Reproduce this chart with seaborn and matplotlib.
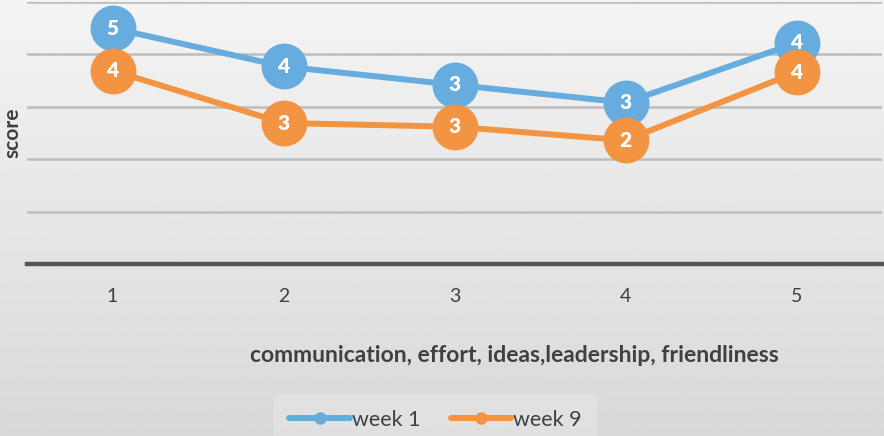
import matplotlib
matplotlib.use("Agg")
import matplotlib.pyplot as plt
import numpy as np
import pandas as pd
import seaborn as sns

# data
categories = [1, 2, 3, 4, 5]
week1 = [4.5, 3.77, 3.42, 3.08, 4.22]
week9 = [3.69, 2.69, 2.62, 2.36, 3.66]
series_names = ["week 1", "week 9"]
colors = ["#66ACDE", "#F29441"]
x_title = "communication, effort, ideas,leadership, friendliness"
y_title = "score"

df = pd.DataFrame({
    "category": categories * 2,
    "score": week1 + week9,
    "series": [series_names[0]] * len(categories) + [series_names[1]] * len(categories),
})

sns.set_style("white")
plt.rcParams["font.family"] = ["Lato", "DejaVu Sans"]

fig = plt.figure(figsize=(8.84, 4.36), dpi=100)

# gradient background
bg = fig.add_axes([0, 0, 1, 1], zorder=-1)
grad = np.linspace(0.955, 0.85, 256).reshape(-1, 1)
bg.imshow(grad, aspect="auto", cmap="gray", vmin=0, vmax=1, extent=[0, 1, 0, 1])
bg.axis("off")

ax = fig.add_axes([27 / 884, 1 - 264 / 436, 855 / 884, 262 / 436])
ax.set_facecolor("none")

sns.lineplot(data=df, x="category", y="score", hue="series", palette=colors,
             marker="o", markersize=33, linewidth=4.3, markeredgewidth=0,
             ax=ax, legend=False, zorder=3)

for vals, col in zip([week1, week9], colors):
    for x, v in zip(categories, vals):
        ax.text(x, v, f"{int(v + 0.5)}", color="white", fontsize=15, fontweight="heavy",
                ha="center", va="center", zorder=5)

ax.set_xlim(0.5, 5.5)
ax.set_ylim(0, 5)
ax.set_yticks([1, 2, 3, 4, 5])
ax.set_yticklabels([])
ax.yaxis.grid(True, color="#bdbdbd", linewidth=1.8)
ax.tick_params(axis="y", length=0)
ax.set_xticks(categories)
ax.set_xticklabels([str(c) for c in categories], fontsize=14, color="#404040")
ax.tick_params(axis="x", length=0, pad=17)
for side in ["top", "right", "left"]:
    ax.spines[side].set_visible(False)
ax.spines["bottom"].set_color("#555555")
ax.spines["bottom"].set_linewidth(3.2)

ax.set_xlabel(x_title, fontsize=16.5, fontweight="bold", color="#404040", labelpad=29)
ax.xaxis.set_label_coords((514 - 27) / 855, -0.31)
ax.set_ylabel(y_title, fontsize=15, fontweight="bold", color="#404040", labelpad=0)

handles = [plt.Line2D([], [], color=c, linewidth=4.3, marker="o", markersize=9, markeredgewidth=0)
           for c in colors]
leg = fig.legend(handles, series_names, loc="upper center", ncol=2,
                 bbox_to_anchor=(435.5 / 884, 1 - 384 / 436), frameon=True,
                 fontsize=15.5, handlelength=2.8, handletextpad=0.1, columnspacing=1.4,
                 borderpad=0.7, fancybox=False)
leg.get_frame().set_facecolor("#e3e3e3")
leg.get_frame().set_edgecolor("none")
for t in leg.get_texts():
    t.set_color("#404040")

fig.savefig("out.png", dpi=100)
